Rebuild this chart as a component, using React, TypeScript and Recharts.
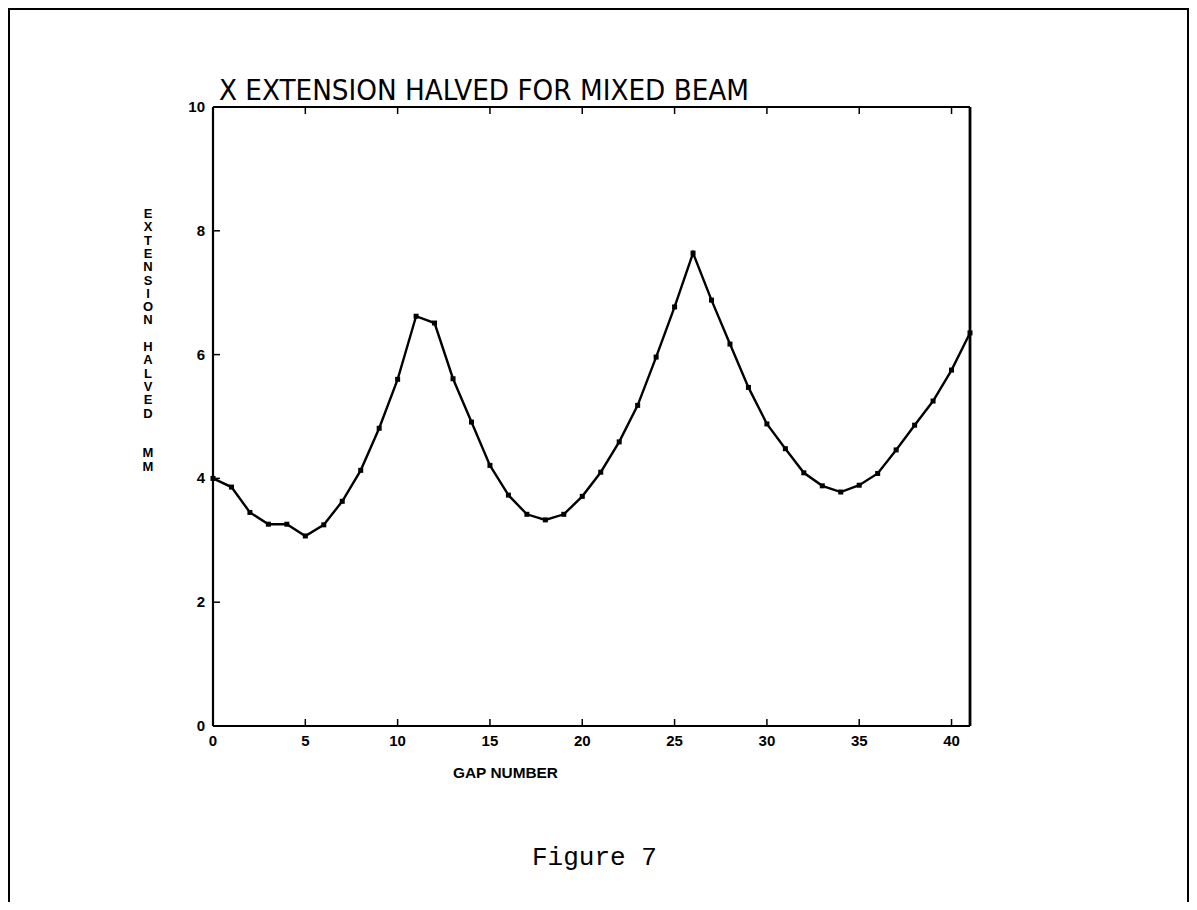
import React from 'react';
import { LineChart, Line, XAxis, YAxis } from 'recharts';

// gap index along the beam
const gapNumbers = [
  0, 1, 2, 3, 4, 5, 6, 7, 8, 9, 10, 11, 12, 13, 14, 15, 16, 17, 18, 19, 20,
  21, 22, 23, 24, 25, 26, 27, 28, 29, 30, 31, 32, 33, 34, 35, 36, 37, 38, 39, 40, 41,
];

// x extension halved, mm
const extensionHalved = [
  4.0, 3.86, 3.45, 3.26, 3.26, 3.07, 3.25, 3.63, 4.13, 4.81, 5.6, 6.62, 6.51, 5.61,
  4.91, 4.21, 3.73, 3.42, 3.33, 3.42, 3.71, 4.1, 4.59, 5.18, 5.96, 6.77, 7.64, 6.88,
  6.17, 5.47, 4.88, 4.48, 4.09, 3.88, 3.78, 3.89, 4.08, 4.46, 4.86, 5.25, 5.75, 6.35,
];

const xTicks = [0, 5, 10, 15, 20, 25, 30, 35, 40];
const yTicks = [0, 2, 4, 6, 8, 10];

const title = 'X EXTENSION HALVED FOR MIXED BEAM';
const yLabel = 'EXTENSION HALVED  MM';
const xLabel = 'GAP NUMBER';
const caption = 'Figure 7';

const data = gapNumbers.map((gap, i) => ({ gap, ext: extensionHalved[i] }));

const tickFont = { fontFamily: 'Liberation Sans, Arial, sans-serif', fontWeight: 700, fontSize: 15 };

const LeftTick = (props: any) => {
  const { x, y, payload } = props;
  const v = payload.value;
  return (
    <g>
      {v > 0 && v < 10 && <line x1={x} x2={x + 7} y1={y} y2={y} stroke="#000" strokeWidth={1.5} />}
      <text x={x - 8} y={y + 5} textAnchor="end" fill="#000" {...tickFont}>{v}</text>
    </g>
  );
};

const RightTick = (props: any) => {
  const { x, y, payload } = props;
  const v = payload.value;
  if (v <= 0 || v >= 10) return <g />;
  return <line x1={x} x2={x - 7} y1={y} y2={y} stroke="#000" strokeWidth={1.5} />;
};

const BottomTick = (props: any) => {
  const { x, y, payload } = props;
  const v = payload.value;
  return (
    <g>
      {v > 0 && <line x1={x} x2={x} y1={y} y2={y - 7} stroke="#000" strokeWidth={1.5} />}
      <text x={x} y={y + 20} textAnchor="middle" fill="#000" {...tickFont}>{v}</text>
    </g>
  );
};

const TopTick = (props: any) => {
  const { x, y, payload } = props;
  if (payload.value <= 0) return <g />;
  return <line x1={x} x2={x} y1={y} y2={y + 7} stroke="#000" strokeWidth={1.5} />;
};

const SquareDot = (props: any) => {
  const { cx, cy } = props;
  if (cx == null || cy == null) return <g />;
  return <rect x={cx - 2.5} y={cy - 2.5} width={5} height={5} fill="#000" />;
};

export default function App() {
  return (
    <div style={{ position: 'relative', margin: -8, width: 1197, height: 910, background: '#fff', overflow: 'hidden' }}>
      <div style={{ position: 'absolute', left: 0, top: 0 }}>
        <LineChart width={1197} height={910} data={data} margin={{ top: 106, right: 226, bottom: 183, left: 212 }}>
          <XAxis
            dataKey="gap" type="number" domain={[0, 41]} ticks={xTicks} height={1}
            tickSize={0} tickMargin={0} tickLine={false} tick={<BottomTick />}
            axisLine={{ stroke: '#000', strokeWidth: 2 }} interval={0}
          />
          <XAxis
            xAxisId="top" orientation="top" dataKey="gap" type="number" domain={[0, 41]} ticks={xTicks}
            height={1} tickSize={0} tickMargin={0} tickLine={false} tick={<TopTick />}
            axisLine={{ stroke: '#000', strokeWidth: 2 }} interval={0}
          />
          <YAxis
            type="number" domain={[0, 10]} ticks={yTicks} width={1} tickSize={0} tickMargin={0}
            tickLine={false} tick={<LeftTick />} axisLine={{ stroke: '#000', strokeWidth: 2.2 }} interval={0}
          />
          <YAxis
            yAxisId="right" orientation="right" type="number" domain={[0, 10]} ticks={yTicks} width={1}
            tickSize={0} tickMargin={0} tickLine={false} tick={<RightTick />}
            axisLine={{ stroke: '#000', strokeWidth: 2.8 }} interval={0}
          />
          <Line
            type="linear" dataKey="ext" stroke="#000" strokeWidth={2.4}
            dot={<SquareDot />} activeDot={false} isAnimationActive={false}
          />
        </LineChart>
      </div>
      <svg width={1197} height={910} style={{ position: 'absolute', left: 0, top: 0, pointerEvents: 'none' }}>
        <path d="M 9 910 L 9 9 L 1188 9 L 1188 910" fill="none" stroke="#000" strokeWidth={2} />
        <text
          x={219} y={100} textLength={530} lengthAdjust="spacingAndGlyphs" fill="#000"
          fontFamily="DejaVu Sans Condensed, Liberation Sans Narrow, sans-serif" fontSize={28}
        >
          {title}
        </text>
        <text fill="#000" fontFamily="Liberation Sans, Arial, sans-serif" fontWeight={700} fontSize={13} textAnchor="middle">
          {yLabel.split('').map((ch, i) =>
            ch === ' ' ? null : (
              <tspan key={i} x={148} y={218 + i * 13.3}>{ch}</tspan>
            ),
          )}
        </text>
        <text
          x={453} y={778} textLength={105} lengthAdjust="spacingAndGlyphs" fill="#000"
          fontFamily="Liberation Sans, Arial, sans-serif" fontWeight={700} fontSize={14}
        >
          {xLabel}
        </text>
        <text
          x={532} y={865} textLength={125} lengthAdjust="spacingAndGlyphs" fill="#000"
          fontFamily="Liberation Mono, DejaVu Sans Mono, monospace" fontSize={25}
        >
          {caption}
        </text>
      </svg>
    </div>
  );
}
